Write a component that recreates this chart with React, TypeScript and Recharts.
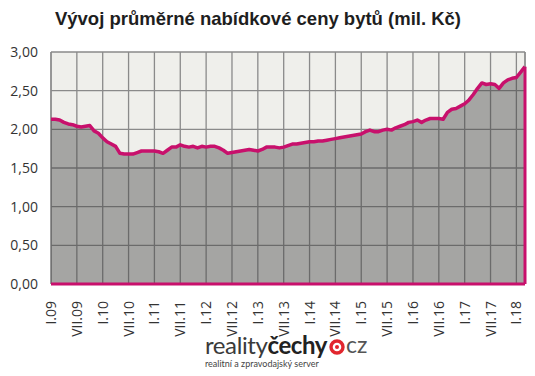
import React from "react";
import { AreaChart, Area, XAxis, YAxis, CartesianGrid, ReferenceLine } from "recharts";

// měsíce I..XII, roky 2009–2018
const MONTHS = ["I", "II", "III", "IV", "V", "VI", "VII", "VIII", "IX", "X", "XI", "XII"];
const YEARS = ["09", "10", "11", "12", "13", "14", "15", "16", "17", "18"];

// průměrná nabídková cena (mil. Kč)
const v2009 = [2.13, 2.13, 2.12, 2.09, 2.07, 2.06, 2.04, 2.03, 2.04, 2.05, 1.98, 1.95];
const v2010 = [1.89, 1.84, 1.81, 1.78, 1.69, 1.68, 1.68, 1.68, 1.7, 1.72, 1.72, 1.72];
const v2011 = [1.72, 1.71, 1.69, 1.73, 1.77, 1.77, 1.8, 1.78, 1.77, 1.78, 1.76, 1.78];
const v2012 = [1.77, 1.78, 1.78, 1.76, 1.73, 1.69, 1.7, 1.71, 1.72, 1.73, 1.74, 1.73];
const v2013 = [1.72, 1.74, 1.77, 1.77, 1.77, 1.76, 1.77, 1.79, 1.81, 1.81, 1.82, 1.83];
const v2014 = [1.84, 1.84, 1.85, 1.85, 1.86, 1.87, 1.88, 1.89, 1.9, 1.91, 1.92, 1.93];
const v2015 = [1.94, 1.97, 1.99, 1.97, 1.97, 1.99, 2.0, 1.99, 2.02, 2.04, 2.06, 2.09];
const v2016 = [2.1, 2.12, 2.09, 2.12, 2.14, 2.14, 2.14, 2.13, 2.22, 2.26, 2.27, 2.3];
const v2017 = [2.33, 2.38, 2.45, 2.53, 2.6, 2.58, 2.59, 2.58, 2.53, 2.6, 2.64, 2.66];
const v2018 = [2.67, 2.74, 2.81];

const Y_TICKS = [0, 0.5, 1, 1.5, 2, 2.5, 3];

const values = [...v2009, ...v2010, ...v2011, ...v2012, ...v2013, ...v2014, ...v2015, ...v2016, ...v2017, ...v2018];
const data = values.map((price, i) => ({
  m: `${MONTHS[i % 12]}.${YEARS[Math.floor(i / 12)]}`,
  price,
}));

const first = data[0];
const last = data[data.length - 1];

const MAGENTA = "#c8106c";
const GRID = "#8a8a8a";

const XTick = ({ x, y, payload }: any) => (
  <text
    transform={`translate(${x},${y + 9}) rotate(-90)`}
    textAnchor="end"
    dy="0.36em"
    fontSize={14}
    fill="#333"
    fontFamily="'Open Sans', sans-serif"
  >
    {payload.value}
  </text>
);

const YTick = ({ y, payload }: any) => (
  <text x={38} y={y} dy="0.36em" textAnchor="end" fontSize={14} fill="#333" fontFamily="'Open Sans', sans-serif">
    {payload.value.toFixed(2).replace(".", ",")}
  </text>
);

export default function App() {
  return (
    <div style={{ position: "absolute", left: 0, top: 0, width: 535, height: 376, background: "#fff" }}>
      <div
        style={{
          position: "absolute",
          top: 8,
          left: 0,
          width: 516,
          textAlign: "center",
          fontFamily: "'Liberation Sans', Arial, sans-serif",
          fontWeight: 700,
          fontSize: 18.5,
          color: "#1e1e1e",
        }}
      >
        Vývoj průměrné nabídkové ceny bytů (mil. Kč)
      </div>

      <AreaChart width={535} height={376} data={data} margin={{ top: 52, right: 10, left: 0, bottom: 32 }}>
        <CartesianGrid stroke={GRID} strokeWidth={1.3} fill="#efefeb" />
        <XAxis dataKey="m" interval={5} height={60} axisLine={false} tickLine={false} tick={<XTick />} />
        <YAxis width={51} domain={[0, 3]} ticks={Y_TICKS} axisLine={false} tickLine={false} tick={<YTick />} />
        <ReferenceLine x={last.m} stroke={GRID} strokeWidth={1.3} />
        <Area
          type="linear"
          dataKey="price"
          stroke={MAGENTA}
          strokeWidth={3.5}
          strokeLinejoin="round"
          fill="#434343"
          fillOpacity={0.43}
          isAnimationActive={false}
          dot={false}
          activeDot={false}
        />
        <ReferenceLine y={0} stroke={MAGENTA} strokeWidth={3} />
        <ReferenceLine segment={[{ x: first.m, y: 0 }, { x: first.m, y: first.price }]} stroke={MAGENTA} strokeWidth={3} />
        <ReferenceLine segment={[{ x: last.m, y: 0 }, { x: last.m, y: last.price }]} stroke={MAGENTA} strokeWidth={3} />
      </AreaChart>

      <div style={{ position: "absolute", left: 205, top: 331, fontFamily: "Lato, sans-serif", whiteSpace: "nowrap" }}>
        <div style={{ display: "flex", alignItems: "center", height: 26 }}>
          <span style={{ fontSize: 24, color: "#3a3a3a", letterSpacing: -0.4 }}>reality</span>
          <span style={{ fontSize: 24, color: "#222", fontWeight: 700, letterSpacing: -0.4 }}>čechy</span>
          <svg width={16} height={16} style={{ margin: "5px 1px 0 2px" }}>
            <circle cx={8} cy={8} r={6} fill="none" stroke="#e2262e" strokeWidth={3.4} />
            <circle cx={8} cy={8} r={2} fill="#e2262e" />
          </svg>
          <span style={{ fontSize: 23, color: "#555" }}>cz</span>
        </div>
        <div style={{ fontSize: 9, color: "#444", marginTop: 1 }}>realitní a zpravodajský server</div>
      </div>
    </div>
  );
}
